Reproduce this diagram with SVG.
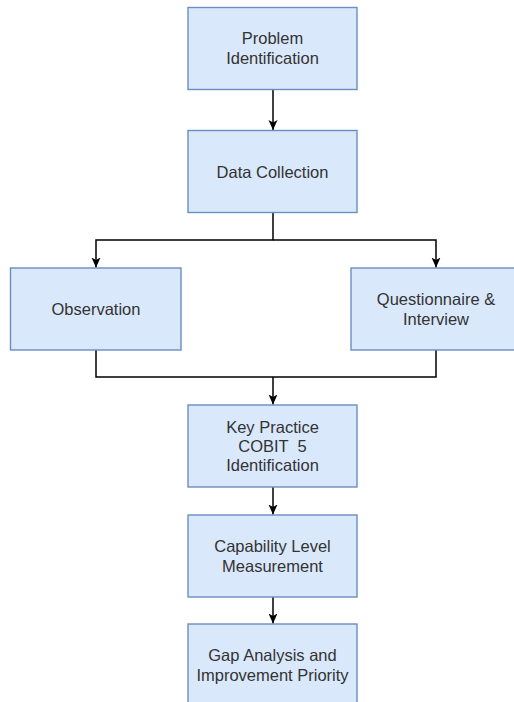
<svg xmlns="http://www.w3.org/2000/svg" width="514" height="702" viewBox="0 0 514 702">
<style>
.box{fill:#dae8fc;stroke:#6c8ebf;stroke-width:1.4}
.lbl{font-family:"Liberation Sans",Arial,Helvetica,sans-serif;font-size:16.5px;fill:#333333;text-anchor:middle}
.edge{fill:none;stroke:#000;stroke-width:1.5}
</style>
<defs>
<marker id="ah" viewBox="0 0 10 10" refX="10" refY="5" markerWidth="10" markerHeight="10" markerUnits="userSpaceOnUse" orient="auto">
<path d="M0,0.5 L10,5 L0,9.5 L2.5,5 Z" fill="#000"/>
</marker>
</defs>
<rect width="514" height="702" fill="#fff"/>
<g id="connectors">
<path class="edge" d="M273,89.5 V130" marker-end="url(#ah)"/>
<path class="edge" d="M273,212.5 V240 H96 V267.5" marker-end="url(#ah)"/>
<path class="edge" d="M273,240 H436 V267.5" marker-end="url(#ah)"/>
<path class="edge" d="M96,350 V377 H436 V350"/>
<path class="edge" d="M273,377 V404.5" marker-end="url(#ah)"/>
<path class="edge" d="M273,487 V514.5" marker-end="url(#ah)"/>
<path class="edge" d="M273,597 V623.5" marker-end="url(#ah)"/>
</g>
<g id="problem">
<rect class="box" x="188" y="7.5" width="169" height="82"/>
<text class="lbl" x="272.5" y="44">Problem</text>
<text class="lbl" x="272.5" y="64">Identification</text>
</g>
<g id="data">
<rect class="box" x="188" y="130.5" width="169" height="82"/>
<text class="lbl" x="272.5" y="177.5">Data Collection</text>
</g>
<g id="observation">
<rect class="box" x="10.5" y="268" width="170.5" height="82"/>
<text class="lbl" x="96" y="315">Observation</text>
</g>
<g id="questionnaire">
<rect class="box" x="351" y="268" width="170" height="82"/>
<text class="lbl" x="436" y="305">Questionnaire &amp;</text>
<text class="lbl" x="436" y="325">Interview</text>
</g>
<g id="keypractice">
<rect class="box" x="188" y="405" width="169" height="82"/>
<text class="lbl" x="272.5" y="432.5">Key Practice</text>
<text class="lbl" x="272.5" y="451.5" xml:space="preserve" style="white-space:pre">COBIT  5</text>
<text class="lbl" x="272.5" y="470.5">Identification</text>
</g>
<g id="capability">
<rect class="box" x="188" y="515" width="169" height="82"/>
<text class="lbl" x="272.5" y="552">Capability Level</text>
<text class="lbl" x="272.5" y="572">Measurement</text>
</g>
<g id="gap">
<rect class="box" x="188" y="624" width="169" height="82"/>
<text class="lbl" x="272.5" y="661">Gap Analysis and</text>
<text class="lbl" x="272.5" y="681">Improvement Priority</text>
</g>
</svg>
